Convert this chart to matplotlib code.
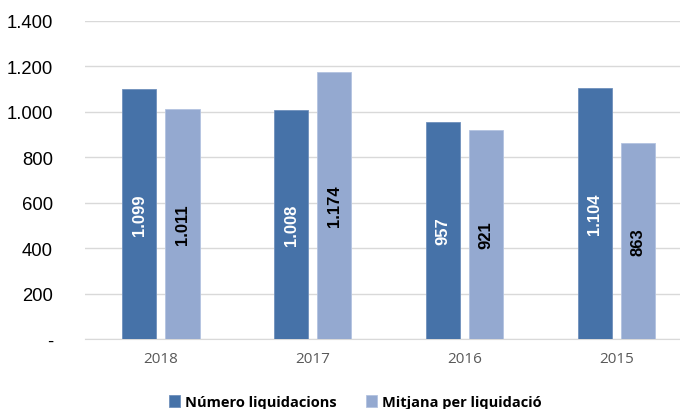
import matplotlib.pyplot as plt
import numpy as np

years = ["2018", "2017", "2016", "2015"]
numero = [1099, 1008, 957, 1104]
mitjana = [1011, 1174, 921, 863]
labels = ["Número liquidacions", "Mitjana per liquidació"]
yticks = [0, 200, 400, 600, 800, 1000, 1200, 1400]


def fmt(v):
    if v == 0:
        return "-"
    return f"{v:,}".replace(",", ".")


fig = plt.figure(figsize=(6.8, 4.1), dpi=100)
ax = fig.add_axes([85 / 680, 70 / 410, 595 / 680, 318 / 410])

x = np.arange(len(years))
w = 0.225
off = 0.142
dark = "#4672A8"
light = "#94A9D0"

b1 = ax.bar(x - off, numero, w, color=dark, edgecolor="#6F90BC", linewidth=0.6, label=labels[0], zorder=3)
b2 = ax.bar(x + off, mitjana, w, color=light, edgecolor="#B3C3E0", linewidth=0.6, label=labels[1], zorder=3)

for xi, v in zip(x - off, numero):
    ax.text(xi, v / 2, fmt(v), rotation=90, ha="center", va="center", color="white",
            fontsize=12, fontweight="bold", family="Liberation Sans", zorder=4)
for xi, v in zip(x + off, mitjana):
    ax.text(xi, v / 2, fmt(v), rotation=90, ha="center", va="center", color="black",
            fontsize=12, fontweight="bold", family="Liberation Sans", zorder=4)

ax.set_xlim(-0.5, 3.42)
ax.set_ylim(0, 1400)
ax.set_yticks(yticks)
ax.set_yticklabels([fmt(v) for v in yticks], family="Liberation Sans", fontsize=13.3)
ax.set_xticks(x)
ax.set_xticklabels(years, family="Open Sans", fontsize=11, color="#595959")
ax.tick_params(axis="both", length=0)
ax.tick_params(axis="x", pad=9)
ax.tick_params(axis="y", pad=23)
ax.grid(axis="y", color="#D9D9D9", linewidth=1, zorder=0)
for s in ["top", "right", "left"]:
    ax.spines[s].set_visible(False)
ax.spines["bottom"].set_color("#D9D9D9")

leg = fig.legend(handles=[b1, b2], loc="center", bbox_to_anchor=(355 / 680, 1 - 403 / 410),
                 ncol=2, frameon=False, handlelength=0.8, handleheight=0.8,
                 handletextpad=0.3, columnspacing=2.0,
                 prop={"family": "Open Sans", "weight": "bold", "size": 10.5})

fig.savefig("out.png", dpi=100)
